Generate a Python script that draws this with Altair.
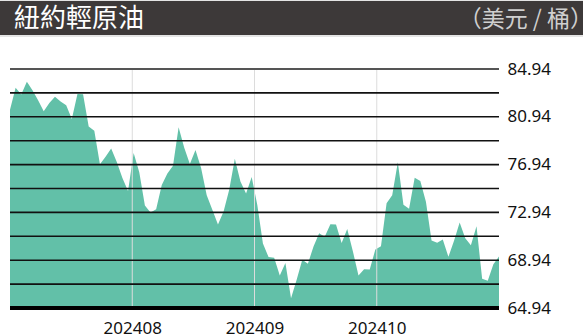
import json
import altair as alt
import pandas as pd

# ---- data (WTI daily settle, 2024-06-28 .. 2024-10-31) ----
prices = [
    81.54,
    83.38, 82.81, 83.88, 83.16, 82.33, 81.41, 82.10, 82.62, 82.21, 81.91, 80.76,
    82.85, 82.82, 80.13, 79.78, 76.96, 77.59, 78.28, 77.16, 75.81, 74.73, 77.91,
    76.31, 73.52, 72.94, 73.20, 75.23, 76.19, 76.84, 80.06, 78.35, 76.98, 78.16,
    76.65, 74.37, 73.17, 71.93, 73.01, 74.83, 77.42, 75.53, 74.52, 75.91, 73.55,
    70.34, 69.20, 69.15, 67.67, 68.71, 65.75, 67.31, 68.97, 68.65, 70.09, 71.19,
    70.91, 71.95, 71.92, 70.37, 71.56, 69.69, 67.67, 68.18, 68.17,
    69.83, 70.10, 73.71, 74.38, 77.14, 73.57, 73.24, 75.85, 75.56, 73.83, 70.58,
    70.39, 70.67, 69.22, 70.56, 72.09, 70.77, 70.19, 71.78, 67.38, 67.21, 68.61,
    69.26,
]
month_labels = ["202408", "202409", "202410"]
y_labels = [64.94, 68.94, 72.94, 76.94, 80.94, 84.94]
grid_levels = [66.94, 68.94, 70.94, 72.94, 74.94, 76.94, 78.94, 80.94, 82.94]
y_min, y_max = 64.94, 84.94
title_text = "紐約輕原油"
unit_text = "（美元 / 桶）"

W, H = 489, 239
PAD_L, PAD_T, PAD_R, PAD_B = 10, 69, 84, 27

n = len(prices)
df = pd.DataFrame({"i": list(range(n)), "price": prices})
step = (n - 1) / (len(month_labels) + 1)
month_pos = [step * (k + 1) for k in range(len(month_labels))]
mdf = pd.DataFrame({"pos": month_pos, "label": month_labels})

xscale = alt.Scale(domain=[0, n - 1], nice=False, zero=False)
yscale = alt.Scale(domain=[y_min, y_max], nice=False, zero=False)

label_expr = f"{json.dumps(month_labels)}[round(datum.value / {step}) - 1]"

one = pd.DataFrame({"k": [0]})

header_light = alt.Chart(one).mark_rect(color="#e4e4e4").encode(
    x=alt.value(-PAD_L), x2=alt.value(W + PAD_R),
    y=alt.value(-PAD_T), y2=alt.value(-PAD_T + 37),
)
header = alt.Chart(one).mark_rect(color="#3d3939").encode(
    x=alt.value(-PAD_L), x2=alt.value(W + PAD_R),
    y=alt.value(-PAD_T + 1), y2=alt.value(-PAD_T + 35),
)
title = alt.Chart(one).mark_text(
    text=title_text, font="Noto Sans CJK TC", fontSize=26, color="white",
    align="left", baseline="middle",
).encode(x=alt.value(4), y=alt.value(-PAD_T + 19))
unit = alt.Chart(one).mark_text(
    text=unit_text, font="Noto Sans CJK TC", fontSize=23, color="#cfcfcf",
    align="right", baseline="middle",
).encode(x=alt.value(W + PAD_R + 10), y=alt.value(-PAD_T + 20))

area = alt.Chart(df).mark_area(color="#62c0a8", clip=True).encode(
    x=alt.X("i:Q", scale=xscale, axis=alt.Axis(
        values=month_pos, labelExpr=label_expr, ticks=False, tickSize=0,
        domain=False, grid=False, labelPadding=12, labelFontSize=17,
        labelFont="Noto Sans", labelColor="#111", labelAlign="center",
        labelFlush=False, labelOverlap=False, title=None)),
    y=alt.Y("price:Q", scale=yscale, axis=alt.Axis(
        orient="right", values=y_labels, format=".2f", ticks=False, tickSize=0,
        domain=False, grid=False, labelPadding=8, labelFontSize=17,
        labelFont="Noto Sans", labelColor="#111", title=None)),
    y2=alt.datum(y_min),
)

vlines = alt.Chart(mdf).mark_rule(color="#dcdcdc", strokeWidth=1).encode(
    x=alt.X("pos:Q", scale=xscale), y=alt.datum(y_min), y2=alt.datum(y_max),
)
hlines = alt.Chart(pd.DataFrame({"v": grid_levels})).mark_rule(
    color="#111", strokeWidth=1.6).encode(y=alt.Y("v:Q", scale=yscale))
top_line = alt.Chart(pd.DataFrame({"v": [y_max]})).mark_rule(
    color="#555", strokeWidth=2).encode(y=alt.Y("v:Q", scale=yscale))
bottom_line = alt.Chart(pd.DataFrame({"v": [y_min]})).mark_rule(
    color="#000", strokeWidth=4).encode(y=alt.Y("v:Q", scale=yscale))

chart = alt.layer(
    header_light, header, title, unit, area, vlines, hlines, top_line, bottom_line
).properties(
    width=W, height=H,
    autosize=alt.AutoSizeParams(type="none"),
    padding={"left": PAD_L, "top": PAD_T, "right": PAD_R, "bottom": PAD_B},
    background="white",
).configure_view(stroke=None)

chart.save("out.html", embed_options={"renderer": "svg", "actions": False})
